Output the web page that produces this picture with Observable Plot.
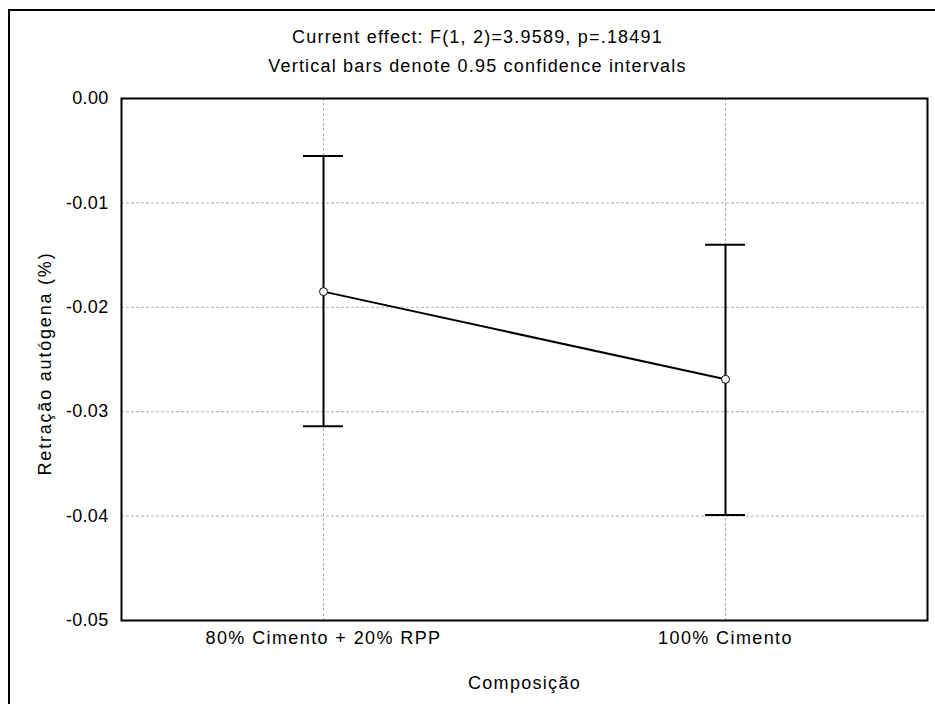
<!DOCTYPE html>
<html>
<head>
<meta charset="utf-8">
<script src="https://cdn.jsdelivr.net/npm/d3@7"></script>
<script src="https://cdn.jsdelivr.net/npm/@observablehq/plot@0.6"></script>
<style>
  html, body { margin: 0; padding: 0; background: #fff; }
  #wrap { position: relative; width: 935px; height: 704px; overflow: hidden; }
  #border { position: absolute; left: 8px; top: 9px; width: 1000px; height: 1000px;
            border-left: 2px solid #000; border-top: 2px solid #000; box-sizing: border-box; }
  #chart { position: absolute; left: 0; top: 0; }
  .ttl { letter-spacing: 1.2px; }
  .xlab { letter-spacing: 1.3px; }
  .ylab { letter-spacing: 1.8px; }
  .xax text { letter-spacing: 1.4px; }
  .yax text { letter-spacing: 0.3px; }
</style>
</head>
<body>
<div id="wrap"><div id="border"></div><div id="chart"></div></div>
<script>
const categories = ["80% Cimento + 20% RPP", "100% Cimento"];
const means = [-0.0185, -0.0269];
const upper = [-0.0055, -0.0140];
const lower = [-0.0314, -0.0399];
const yTicks = [0, -0.01, -0.02, -0.03, -0.04, -0.05];
const title1 = "Current effect: F(1, 2)=3.9589, p=.18491";
const title2 = "Vertical bars denote 0.95 confidence intervals";
const xLabel = "Composição";
const yLabel = "Retração autógena (%)";

const data = categories.map((c, i) => ({cat: c, mean: means[i], lo: lower[i], hi: upper[i]}));
const font = "'Liberation Sans', Arial, sans-serif";

const plot = Plot.plot({
  width: 935,
  height: 704,
  marginLeft: 121,
  marginRight: 8,
  marginTop: 98,
  marginBottom: 84,
  style: {fontFamily: font, fontSize: "18px", color: "#000", background: "transparent"},
  x: {type: "band", domain: categories, paddingInner: 0.9005, paddingOuter: 0.4527, align: 0.5},
  y: {domain: [-0.05, 0]},
  marks: [
    Plot.gridY(yTicks, {stroke: "#b0b0b0", strokeOpacity: 1, strokeDasharray: "3,2"}),
    Plot.gridX(categories, {stroke: "#b0b0b0", strokeOpacity: 1, strokeDasharray: "3,2"}),
    Plot.axisY(yTicks, {tickSize: 0, tickPadding: 13, tickFormat: d => d.toFixed(2), label: null, fontSize: 18, className: "yax"}),
    Plot.axisX({tickSize: 0, tickPadding: 11, label: null, fontSize: 18, className: "xax"}),
    Plot.ruleX(data, {x: "cat", y1: "lo", y2: "hi", stroke: "#000", strokeWidth: 2}),
    Plot.tickY(data, {x: "cat", y: "lo", stroke: "#000", strokeWidth: 2}),
    Plot.tickY(data, {x: "cat", y: "hi", stroke: "#000", strokeWidth: 2}),
    Plot.line(data, {x: "cat", y: "mean", stroke: "#000", strokeWidth: 2}),
    Plot.dot(data, {x: "cat", y: "mean", r: 4, fill: "#fff", stroke: "#000", strokeWidth: 1}),
    Plot.frame({stroke: "#000", strokeWidth: 2}),
    Plot.text([title1], {frameAnchor: "top-left", dx: 356, dy: -61, text: d => d, textAnchor: "middle", lineAnchor: "middle", fontSize: 18, fill: "#000", className: "ttl"}),
    Plot.text([title2], {frameAnchor: "top-left", dx: 356, dy: -32, text: d => d, textAnchor: "middle", lineAnchor: "middle", fontSize: 18, fill: "#000", className: "ttl"}),
    Plot.text([xLabel], {frameAnchor: "bottom", dy: 63, text: d => d, textAnchor: "middle", lineAnchor: "middle", fontSize: 18, fill: "#000", className: "xlab"}),
    Plot.text([yLabel], {frameAnchor: "left", dx: -76, dy: 4, text: d => d, rotate: -90, textAnchor: "middle", lineAnchor: "middle", fontSize: 18, fill: "#000", className: "ylab"})
  ]
});
document.getElementById("chart").appendChild(plot);
</script>
</body>
</html>
